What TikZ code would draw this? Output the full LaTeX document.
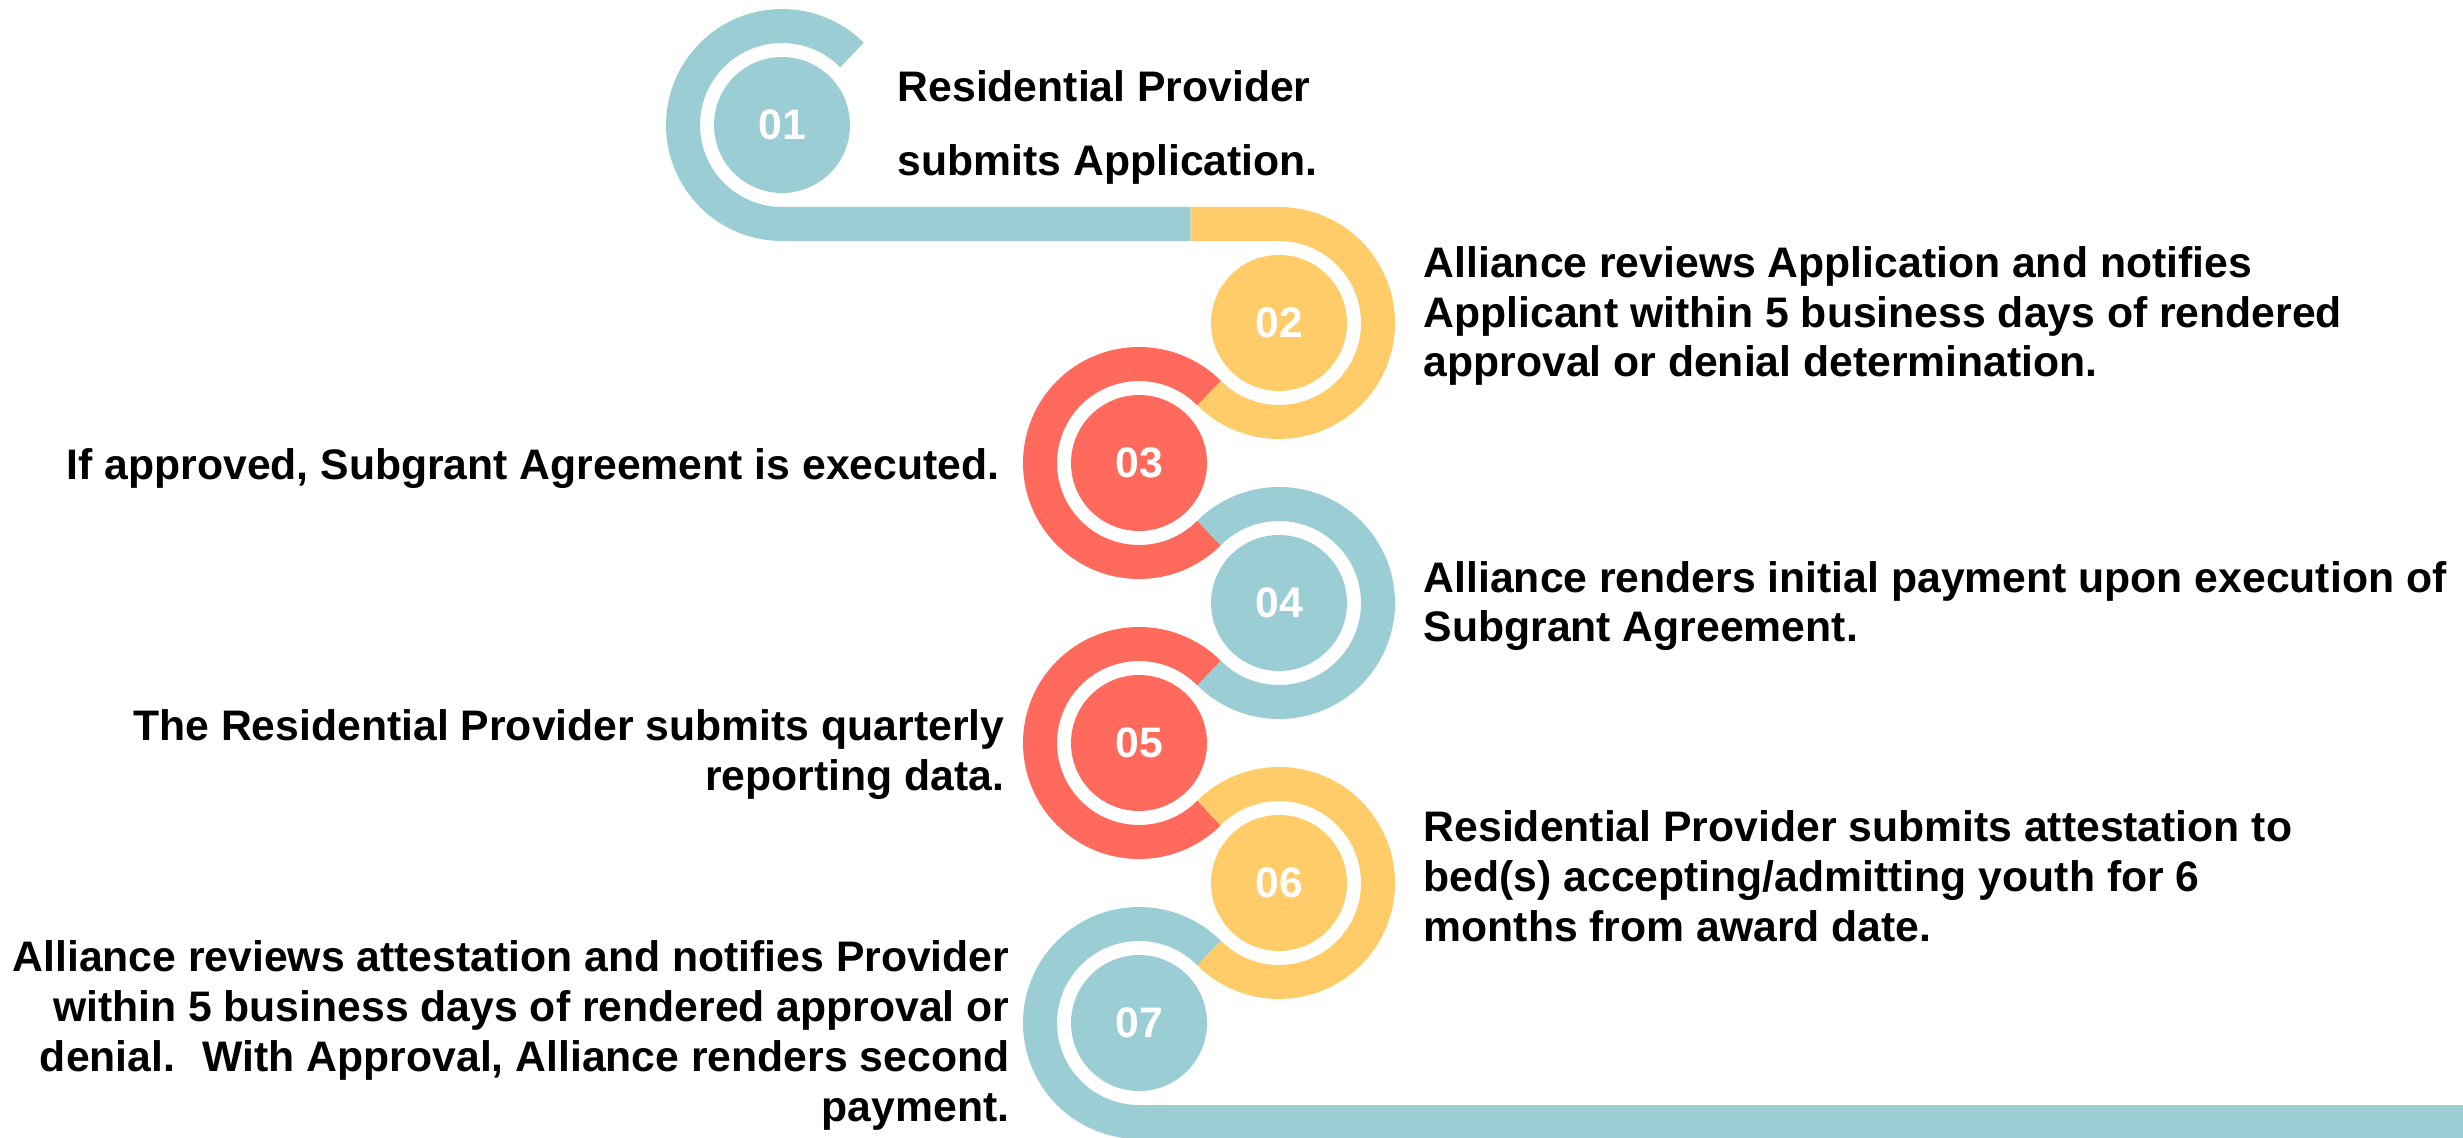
\documentclass[tikz,border=0pt]{standalone}
\usepackage{fontspec}
\setmainfont{Liberation Sans}
\definecolor{stepblue}{RGB}{155,206,212}
\definecolor{stepgold}{RGB}{255,204,105}
\definecolor{stepred}{RGB}{255,106,93}
\tikzset{
  band/.style = {line width=0.34cm},
  disc/.style = {circle, minimum size=1.36cm, inner sep=0pt, text=white,
                 font=\fontsize{12.15}{14.2}\selectfont\bfseries},
  steptext/.style = {inner sep=0pt, font=\fontsize{12.15}{14.2}\selectfont\bfseries}
}

\begin{document}
\begin{tikzpicture}[scale = 1]
\useasboundingbox (0.0, 0.0) rectangle (24.63, -11.38);
% numbered discs
\node[disc, fill=stepblue] (n1) at (7.82, -1.25){01};
\node[disc, fill=stepgold] (n2) at (12.79, -3.23){02};
\node[disc, fill=stepred] (n3) at (11.39, -4.63){03};
\node[disc, fill=stepblue] (n4) at (12.79, -6.03){04};
\node[disc, fill=stepred] (n5) at (11.39, -7.43){05};
\node[disc, fill=stepgold] (n6) at (12.79, -8.83){06};
\node[disc, fill=stepblue] (n7) at (11.39, -10.23){07};
% bands round the discs
\coordinate (split) at (11.907, -2.24);
\coordinate (tail) at (24.70, -11.22);
\draw[band, stepblue] (n1.center) ++(45:0.99) arc[start angle=45, end angle=270, radius=0.99] -- (split);
\draw[band, stepgold] (split) -- (n2.center |- split) arc[start angle=90, end angle=-135, radius=0.99];
\draw[band, stepred] (n3.center) ++(45:0.99) arc[start angle=45, end angle=315, radius=0.99];
\draw[band, stepblue] (n4.center) ++(135:0.99) arc[start angle=135, end angle=-135, radius=0.99];
\draw[band, stepred] (n5.center) ++(45:0.99) arc[start angle=45, end angle=315, radius=0.99];
\draw[band, stepgold] (n6.center) ++(135:0.99) arc[start angle=135, end angle=-135, radius=0.99];
\draw[band, stepblue] (n7.center) ++(45:0.99) arc[start angle=45, end angle=270, radius=0.99] -- (tail);
% step texts (base = last line)
\node[steptext, anchor=base west, align=left, font=\fontsize{12.15}{21.3}\selectfont\bfseries] (t1) at (8.97, -1.76){Residential Provider\\submits Application.};
\node[steptext, anchor=base west, align=left] (t2) at (14.23, -3.77){Alliance reviews Application and notifies\\Applicant within 5 business days of rendered\\approval or denial determination.};
\node[steptext, anchor=base east, align=right] (t3) at (10.00, -4.80){If approved, Subgrant Agreement is executed.};
\node[steptext, anchor=base west, align=left] (t4) at (14.23, -6.42){Alliance renders initial payment upon execution of\\Subgrant Agreement.};
\node[steptext, anchor=base east, align=right] (t5) at (10.05, -7.90){The Residential Provider submits quarterly\\reporting data.};
\node[steptext, anchor=base west, align=left] (t6) at (14.23, -9.41){Residential Provider submits attestation to\\bed(s) accepting/admitting youth for 6\\months from award date.};
\node[steptext, anchor=base east, align=right] (t7) at (10.10, -11.21){Alliance reviews attestation and notifies Provider\\within 5 business days of rendered approval or\\denial.~ With Approval, Alliance renders second\\payment.};
\end{tikzpicture}
\end{document}
